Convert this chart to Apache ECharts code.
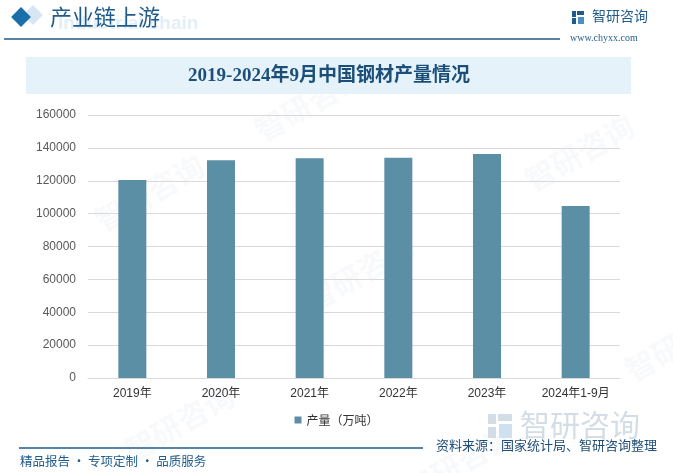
<!DOCTYPE html>
<html><head><meta charset="utf-8">
<script src="https://cdn.jsdelivr.net/npm/echarts@6/dist/echarts.min.js"></script>
<style>html,body{margin:0;padding:0;background:#fff}#c{width:673px;height:473px}</style>
</head><body><div id="c"></div>
<script>
const categories = ['2019年','2020年','2021年','2022年','2023年','2024年1-9月'];
const production = [120456, 132489, 133667, 134034, 136268, 104589];
const yTicks = [0, 20000, 40000, 60000, 80000, 100000, 120000, 140000, 160000];
const seriesName = '产量（万吨）';

const chart = echarts.init(document.getElementById('c'), null, {renderer:'canvas'});
const cjk = '"Noto Sans CJK SC", sans-serif';
const wm = [];
[[90,150],[300,230],[520,110],[120,380],[400,420],[620,300],[250,60]].forEach(p=>{
  wm.push({type:'text', left:p[0], top:p[1], rotation:Math.PI/6, z:0,
    style:{text:'智研咨询', font:'bold 30px '+cjk, fill:'rgba(200,212,222,0.13)'}});
});
chart.setOption({
  animation:false,
  backgroundColor:'#fff',
  grid:{left:88, right:53, top:115, bottom:95},
  xAxis:{type:'category', data:categories,
    axisLine:{lineStyle:{color:'#D9D9D9'}}, axisTick:{show:false},
    axisLabel:{color:'#333', fontSize:12, fontFamily:'"Liberation Sans", '+cjk, margin:10}},
  yAxis:{type:'value', min:yTicks[0], max:yTicks[yTicks.length-1], interval:20000,
    axisLine:{show:false}, axisTick:{show:false},
    splitLine:{lineStyle:{color:'#D9D9D9'}},
    axisLabel:{color:'#595959', fontSize:12, fontFamily:'"Liberation Sans", sans-serif', margin:12,
      formatter:v=>String(v)}},
  legend:{data:[seriesName], bottom:42, left:'center', itemWidth:7, itemHeight:7, itemGap:4,
    icon:'rect', textStyle:{color:'#333', fontSize:12, fontFamily:cjk}},
  series:[{name:seriesName, type:'bar', data:production, barWidth:28,
    itemStyle:{color:'#5B8FA6'}}],
  graphic: wm.concat([
    {type:'rect', shape:{x:14, y:8, width:14, height:14}, rotation:Math.PI/4, originX:21, originY:15, z:5,
      style:{fill:'#D6E6F2'}, position:[12,0]},
    {type:'rect', shape:{x:14, y:8, width:14, height:14}, rotation:Math.PI/4, originX:21, originY:15, z:6,
      style:{fill:'#1A6FA8'}, position:[0,2]},
    {type:'text', left:58, top:14, z:5, style:{text:'Industrial chain', font:'bold 19px "Liberation Sans", sans-serif', fill:'#E3EFF8'}},
    {type:'text', left:50, top:6, z:6, style:{text:'产业链上游', font:'22px '+cjk, fill:'#1F5C8C'}},
    {type:'line', shape:{x1:4, y1:39, x2:560, y2:39}, style:{stroke:'#1F5C8C', lineWidth:1.5}},
    {type:'rect', shape:{x:572, y:11, width:4, height:6}, style:{fill:'#1F5C8C'}},
    {type:'rect', shape:{x:577, y:11, width:7, height:4}, style:{fill:'#1F5C8C'}},
    {type:'rect', shape:{x:572, y:18, width:4, height:6}, style:{fill:'#1F5C8C'}},
    {type:'rect', shape:{x:578, y:17, width:6, height:7}, style:{fill:'#4A90C8'}},
    {type:'text', left:592, top:9, style:{text:'智研咨询', font:'14px '+cjk, fill:'#1F5C8C'}},
    {type:'text', left:570, top:33, style:{text:'www.chyxx.com', font:'10px "Liberation Serif", serif', fill:'#1F5C8C'}},
    {type:'rect', shape:{x:26, y:57, width:605, height:37}, style:{fill:'#E6F2FA'}},
    {type:'text', x:329, y:76, style:{text:'2019-2024年9月中国钢材产量情况', font:'bold 19px "Liberation Serif", '+cjk, fill:'#1B4F7A', textAlign:'center', textVerticalAlign:'middle'}},
    {type:'rect', shape:{x:488, y:414, width:8, height:10}, style:{fill:'#D3DDE5'}},
    {type:'rect', shape:{x:498, y:414, width:14, height:7}, style:{fill:'#D3DDE5'}},
    {type:'rect', shape:{x:488, y:427, width:8, height:11}, style:{fill:'#D3DDE5'}},
    {type:'rect', shape:{x:499, y:424, width:13, height:14}, style:{fill:'#CFE0EE'}},
    {type:'text', left:520, top:410, style:{text:'智研咨询', font:'30px '+cjk, fill:'#D3DDE5'}},
    {type:'line', shape:{x1:19, y1:448, x2:423, y2:448}, style:{stroke:'#1F5C8C', lineWidth:1.5}},
    {type:'text', left:436, top:439, style:{text:'资料来源：国家统计局、智研咨询整理', font:'13px '+cjk, fill:'#1F4E79'}},
    {type:'text', left:20, top:455, style:{text:'精品报告 · 专项定制 · 品质服务', font:'12.5px '+cjk, fill:'#1F5C8C'}}
  ])
});
</script></body></html>
